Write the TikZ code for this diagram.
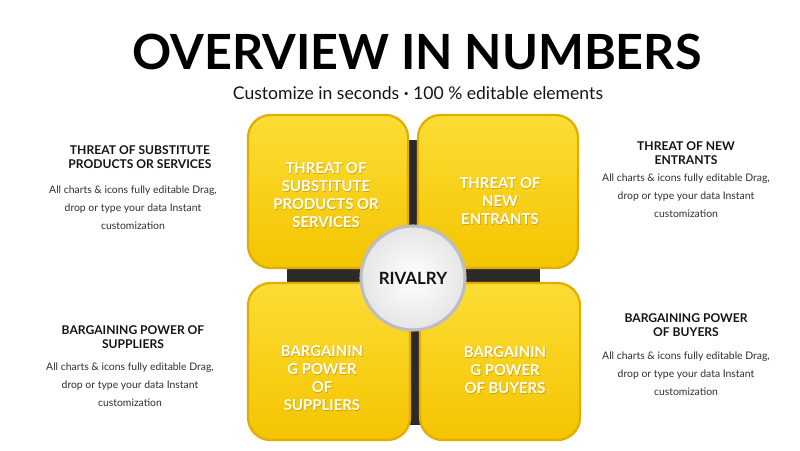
\documentclass[tikz,border=0pt]{standalone}
\usepackage{fontspec}
\setmainfont{Lato}
\definecolor{tiledark}{HTML}{E3AC00}
\definecolor{tiletop}{HTML}{FCDD35}
\definecolor{tilemid}{HTML}{F7CB0C}
\definecolor{tilebot}{HTML}{F4C400}
\definecolor{textshade}{HTML}{B58A00}
\definecolor{crossdark}{HTML}{2B2A28}
\definecolor{rimgray}{HTML}{BDBDC0}
\definecolor{inkdark}{HTML}{141414}
\definecolor{bodygray}{HTML}{2E2E2E}
\newcommand{\tilelabel}[3]{%
  \node[tiletext, text=textshade, opacity=0.6] at ([xshift=0.5pt,yshift=-0.7pt]#2) {#3};
  \node[tiletext] (#1) at (#2) {#3};}
\begin{document}
\begin{tikzpicture}[x=0.025cm, y=-0.025cm,
  tile/.style={rounded corners=16pt, draw=tiledark, line width=1.6pt, top color=tiletop, middle color=tilemid, bottom color=tilebot},
  tiletext/.style={text=white, align=center, font=\bfseries\fontsize{10.6}{12.8}\selectfont},
  head/.style={text=inkdark, align=center, font=\bfseries\fontsize{8.6}{10}\selectfont},
  body/.style={text=bodygray, align=center, font=\fontsize{7.4}{12.8}\selectfont}]

  % canvas
  \useasboundingbox (0,0) rectangle (800,450);

  % title
  \node[text=black, font=\bfseries\fontsize{34.5}{36}\selectfont] (title) at (417,52) {OVERVIEW IN NUMBERS};
  \node[text=inkdark, font=\fontsize{12.5}{14}\selectfont] (subtitle) at (418,93)
    {Customize in seconds \raisebox{0.3ex}{\fontsize{6}{6}\selectfont•} 100 \% editable elements};

  % dark cross behind the tiles
  \fill[crossdark] (404,140) rectangle (421,425);
  \fill[crossdark] (287,267) rectangle (540,284);

  % four tiles
  \draw[tile] (248,115) rectangle (408,268);
  \draw[tile] (418,115) rectangle (578,268);
  \draw[tile] (248,283) rectangle (410,440);
  \draw[tile] (420,283) rectangle (580,440);

  \tilelabel{subst}{326,195}{THREAT OF\\SUBSTITUTE\\PRODUCTS OR\\SERVICES}
  \tilelabel{entr}{500,201}{THREAT OF\\NEW\\ENTRANTS}
  \tilelabel{suppl}{322,378}{BARGAININ\\G POWER\\OF\\SUPPLIERS}
  \tilelabel{buyer}{505,370}{BARGAININ\\G POWER\\OF BUYERS}

  % centre disc
  \node[circle, minimum size=2.6cm, inner color=white, outer color=gray!20, draw=rimgray, line width=2.2pt,
        text=inkdark, font=\bfseries\fontsize{12}{14}\selectfont] (rival) at (413,278) {RIVALRY};

  % side texts
  \node[head] (hsubst) at (140,157) {THREAT OF SUBSTITUTE\\PRODUCTS OR SERVICES};
  \node[body] (bsubst) at (133,208) {All charts \& icons fully editable Drag,\\drop or type your data Instant\\customization};
  \node[head] (hentr) at (686,153) {THREAT OF NEW\\ENTRANTS};
  \node[body] (bentr) at (686,196) {All charts \& icons fully editable Drag,\\drop or type your data Instant\\customization};
  \node[head] (hsuppl) at (133,337) {BARGAINING POWER OF\\SUPPLIERS};
  \node[body] (bsuppl) at (130,385) {All charts \& icons fully editable Drag,\\drop or type your data Instant\\customization};
  \node[head] (hbuyer) at (686,325) {BARGAINING POWER\\OF BUYERS};
  \node[body] (bbuyer) at (686,374) {All charts \& icons fully editable Drag,\\drop or type your data Instant\\customization};

\end{tikzpicture}
\end{document}
